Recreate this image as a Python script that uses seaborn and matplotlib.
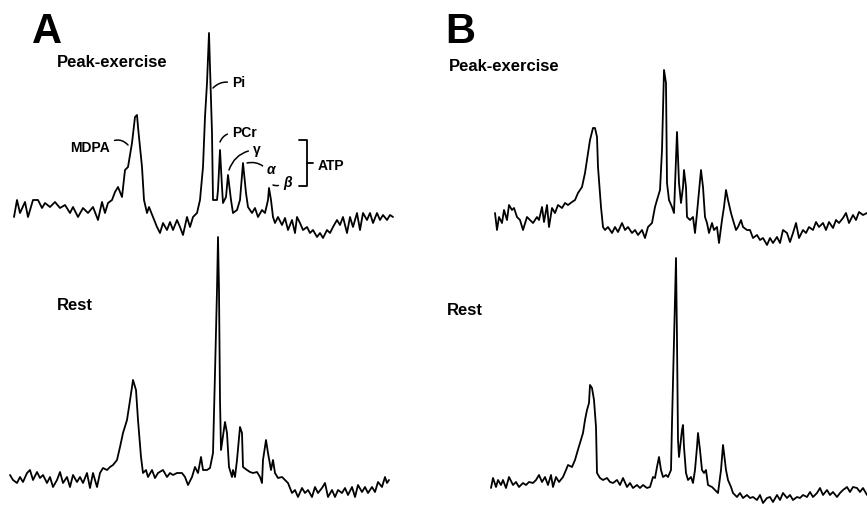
import matplotlib
matplotlib.use("Agg")
import matplotlib.pyplot as plt
import seaborn as sns

# 31P spectra: x = channel, y = signal (a.u.)
a_ex_x = [14, 17, 20, 25, 28, 33, 38, 42, 45, 50, 55, 60, 65, 70, 73, 78, 83, 88, 93, 98,
          102, 105, 108, 112, 115, 118, 122, 125, 128, 132, 135, 137, 138, 142, 144, 147, 149, 153, 157, 160,
          163, 167, 170, 173, 177, 180, 183, 187, 190, 193, 197, 200, 203, 205, 207, 209, 210, 212, 213, 217,
          218, 220, 222, 223, 226, 228, 231, 233, 237, 240, 243, 246, 248, 252, 255, 258, 262, 265, 268, 269,
          271, 273, 275, 278, 282, 285, 288, 292, 295, 297, 300, 303, 307, 310, 313, 317, 320, 323, 327, 330,
          333, 337, 340, 343, 347, 350, 353, 357, 360, 363, 367, 370, 373, 377, 380, 383, 387, 390, 393]
a_ex_y = [33, 50, 37, 48, 33, 50, 50, 42, 47, 43, 48, 42, 45, 37, 43, 33, 42, 37, 43, 30,
          48, 37, 47, 50, 58, 63, 53, 80, 83, 107, 133, 135, 123, 83, 50, 37, 43, 33, 23, 17,
          27, 20, 28, 20, 30, 23, 15, 33, 23, 33, 37, 50, 83, 133, 167, 217, 183, 117, 50, 50,
          60, 100, 63, 47, 53, 75, 50, 37, 40, 50, 87, 57, 43, 37, 42, 33, 40, 37, 50, 62,
          50, 33, 27, 33, 25, 32, 20, 30, 17, 33, 27, 20, 23, 17, 20, 13, 17, 12, 20, 17,
          23, 30, 25, 33, 17, 33, 23, 37, 20, 37, 30, 37, 27, 37, 30, 35, 30, 35, 33]

a_rest_x = [10, 13, 17, 20, 23, 27, 30, 33, 37, 40, 43, 47, 50, 53, 57, 60, 63, 67, 70, 73,
            77, 80, 83, 87, 90, 93, 97, 100, 103, 107, 110, 113, 117, 120, 123, 127, 129, 132, 133, 136,
            138, 141, 143, 146, 148, 152, 155, 158, 163, 167, 170, 173, 177, 182, 185, 188, 192, 195, 198, 201,
            203, 207, 210, 213, 215, 217, 218, 219, 220, 221, 225, 227, 229, 232, 233, 235, 237, 240, 242, 243,
            247, 250, 253, 257, 260, 262, 263, 266, 268, 271, 273, 275, 278, 282, 285, 288, 292, 295, 298, 302,
            305, 308, 312, 315, 318, 322, 325, 328, 332, 335, 338, 342, 345, 348, 352, 355, 358, 362, 365, 368,
            372, 375, 378, 382, 385, 387, 389]
a_rest_y = [30, 25, 22, 28, 23, 32, 35, 25, 33, 27, 30, 22, 28, 18, 25, 33, 22, 28, 18, 30,
            23, 28, 22, 32, 17, 32, 18, 32, 37, 35, 38, 40, 45, 58, 72, 85, 98, 118, 125, 115,
            85, 48, 32, 35, 28, 35, 27, 32, 35, 28, 32, 30, 32, 32, 28, 20, 28, 38, 32, 48,
            35, 35, 37, 52, 132, 215, 268, 215, 105, 55, 83, 72, 38, 28, 35, 28, 45, 78, 72, 38,
            35, 33, 32, 33, 28, 22, 45, 65, 52, 35, 45, 32, 27, 28, 25, 22, 12, 15, 8, 17,
            12, 15, 8, 18, 12, 17, 22, 8, 15, 8, 15, 12, 17, 10, 18, 8, 20, 13, 18, 12,
            18, 13, 23, 18, 28, 22, 25]

b_ex_x = [62, 64, 66, 69, 71, 74, 76, 79, 81, 84, 87, 90, 94, 97, 100, 104, 106, 109, 111, 114,
          116, 119, 122, 125, 129, 132, 135, 139, 142, 145, 149, 152, 154, 157, 160, 162, 164, 165, 168, 170,
          172, 175, 179, 182, 185, 189, 192, 195, 199, 202, 205, 209, 212, 215, 219, 222, 224, 227, 229, 231,
          233, 234, 236, 239, 241, 244, 246, 248, 250, 251, 253, 254, 257, 260, 262, 264, 268, 270, 272, 274,
          276, 279, 281, 284, 286, 289, 291, 293, 295, 298, 300, 303, 305, 308, 310, 314, 317, 320, 324, 327,
          330, 334, 337, 340, 344, 347, 350, 354, 357, 360, 363, 366, 370, 373, 376, 380, 383, 386, 390, 393,
          396, 400, 403, 406, 410, 413, 416, 420, 423, 426, 430, 434]
b_ex_y = [37, 20, 33, 27, 40, 30, 45, 40, 42, 33, 30, 20, 33, 30, 27, 33, 30, 43, 28, 45,
          23, 42, 37, 45, 42, 47, 45, 48, 50, 57, 63, 77, 90, 110, 122, 122, 113, 83, 43, 23,
          20, 23, 17, 23, 18, 27, 20, 23, 17, 20, 15, 20, 12, 23, 27, 43, 50, 60, 100, 180,
          167, 67, 50, 43, 37, 118, 67, 47, 63, 80, 63, 33, 30, 33, 17, 37, 80, 63, 33, 27,
          17, 27, 20, 23, 7, 30, 43, 60, 50, 37, 30, 20, 23, 30, 23, 20, 20, 12, 15, 10,
          12, 5, 12, 7, 13, 7, 20, 17, 8, 17, 27, 12, 20, 17, 23, 20, 28, 23, 27, 20,
          28, 22, 30, 27, 32, 37, 27, 35, 30, 38, 35, 37]

b_rest_x = [58, 60, 63, 65, 68, 70, 73, 76, 80, 83, 86, 90, 93, 96, 100, 103, 106, 109, 112, 115,
            118, 120, 123, 126, 130, 133, 135, 139, 142, 144, 147, 150, 152, 154, 156, 157, 159, 161, 163, 164,
            167, 170, 174, 177, 180, 184, 187, 190, 194, 197, 200, 204, 207, 210, 214, 217, 220, 222, 224, 226,
            228, 230, 233, 235, 238, 239, 241, 243, 244, 245, 246, 249, 250, 251, 253, 255, 258, 260, 262, 264,
            265, 267, 269, 271, 273, 275, 279, 282, 285, 288, 290, 291, 293, 295, 298, 300, 304, 307, 310, 314,
            317, 320, 324, 327, 330, 334, 337, 340, 344, 347, 350, 354, 357, 360, 364, 367, 370, 374, 377, 380,
            384, 387, 390, 394, 397, 400, 404, 407, 410, 414, 417, 420, 424, 427, 430, 434]
b_rest_y = [17, 27, 18, 25, 20, 25, 17, 28, 20, 23, 18, 22, 20, 23, 22, 25, 30, 23, 28, 20,
            30, 18, 28, 23, 28, 35, 40, 38, 45, 52, 62, 72, 85, 95, 102, 120, 117, 105, 78, 32,
            27, 25, 27, 23, 22, 25, 20, 27, 18, 22, 17, 20, 17, 20, 17, 18, 28, 27, 38, 48,
            35, 28, 30, 28, 35, 82, 165, 247, 165, 65, 48, 75, 80, 58, 32, 25, 28, 22, 35, 58,
            72, 55, 35, 32, 35, 20, 18, 15, 12, 35, 60, 52, 35, 25, 18, 12, 8, 12, 7, 10,
            7, 8, 5, 10, 2, 7, 8, 3, 10, 5, 12, 7, 10, 5, 8, 7, 10, 8, 13, 8,
            12, 17, 10, 15, 10, 13, 8, 12, 15, 18, 13, 18, 17, 13, 17, 10]

sns.set_style("white")
plt.rcParams['font.family'] = ['Liberation Sans', 'DejaVu Sans']
plt.rcParams['text.color'] = 'black'

W, H = 867, 505
fig = plt.figure(figsize=(W / 100, H / 100), dpi=100)


def panel(left, top, width, height):
    ax = fig.add_axes([left / W, 1 - (top + height) / H, width / W, height / H])
    ax.set_xlim(0, width)
    ax.set_ylim(0, height)
    ax.axis('off')
    return ax


ax_a_ex = panel(0, 0, 433, 250)
ax_a_rest = panel(0, 225, 433, 280)
ax_b_ex = panel(433, 0, 434, 250)
ax_b_rest = panel(433, 225, 434, 280)

for ax, xs, ys in [(ax_a_ex, a_ex_x, a_ex_y), (ax_a_rest, a_rest_x, a_rest_y),
                   (ax_b_ex, b_ex_x, b_ex_y), (ax_b_rest, b_rest_x, b_rest_y)]:
    sns.lineplot(x=xs, y=ys, ax=ax, color='black', lw=1.3, estimator=None, sort=False)
    ax.axis('off')

# peak labels
lab = dict(fontsize=10, fontweight='bold', va='center', color='black')
lead = dict(arrowstyle='-', lw=1.1, color='black', shrinkA=1, shrinkB=0)
ax_a_ex.annotate("Pi", xy=(213, 162), xytext=(232, 167), ha='left', **lab,
                 arrowprops=dict(connectionstyle='arc3,rad=0.3', relpos=(0, 0.5), **lead))
ax_a_ex.annotate("PCr", xy=(220, 108), xytext=(232, 117), ha='left', **lab,
                 arrowprops=dict(connectionstyle='arc3,rad=0.3', relpos=(0, 0.5), **lead))
ax_a_ex.annotate("γ", xy=(229, 80), xytext=(253, 100), ha='left', **lab,
                 arrowprops=dict(connectionstyle='arc3,rad=0.3', relpos=(0, 0.5), **lead))
ax_a_ex.annotate("α", xy=(247, 87), xytext=(267, 80), ha='left', style='italic', **lab,
                 arrowprops=dict(connectionstyle='arc3,rad=0.3', relpos=(0, 0.5), **lead))
ax_a_ex.annotate("β", xy=(273, 65), xytext=(283, 67), ha='left', style='italic', **lab,
                 arrowprops=dict(connectionstyle='arc3,rad=-0.3', relpos=(0, 0.5), **lead))
ax_a_ex.annotate("MDPA", xy=(128, 105), xytext=(110, 102), ha='right', **lab,
                 arrowprops=dict(connectionstyle='arc3,rad=-0.4', relpos=(1, 0.9), **lead))
ax_a_ex.plot([299, 307, 307, 299], [110, 110, 64, 64], color='black', lw=1.3)
ax_a_ex.plot([307, 313], [87, 87], color='black', lw=1.3)
ax_a_ex.text(318, 84, "ATP", ha='left', **lab)

# panel letters and condition labels
fig.text(32 / W, 1 - 43 / H, "A", fontsize=30, fontweight='bold', va='baseline', color='black')
fig.text(445 / W, 1 - 43 / H, "B", fontsize=30, fontweight='bold', va='baseline', color='black')
for x0, y0, s in [(57, 67, "Peak-exercise"), (57, 310, "Rest"),
                  (449, 71, "Peak-exercise"), (447, 315, "Rest")]:
    fig.text(x0 / W, 1 - y0 / H, s, fontsize=12, fontweight='bold', va='baseline', color='black')

fig.savefig("out.png", dpi=100)
